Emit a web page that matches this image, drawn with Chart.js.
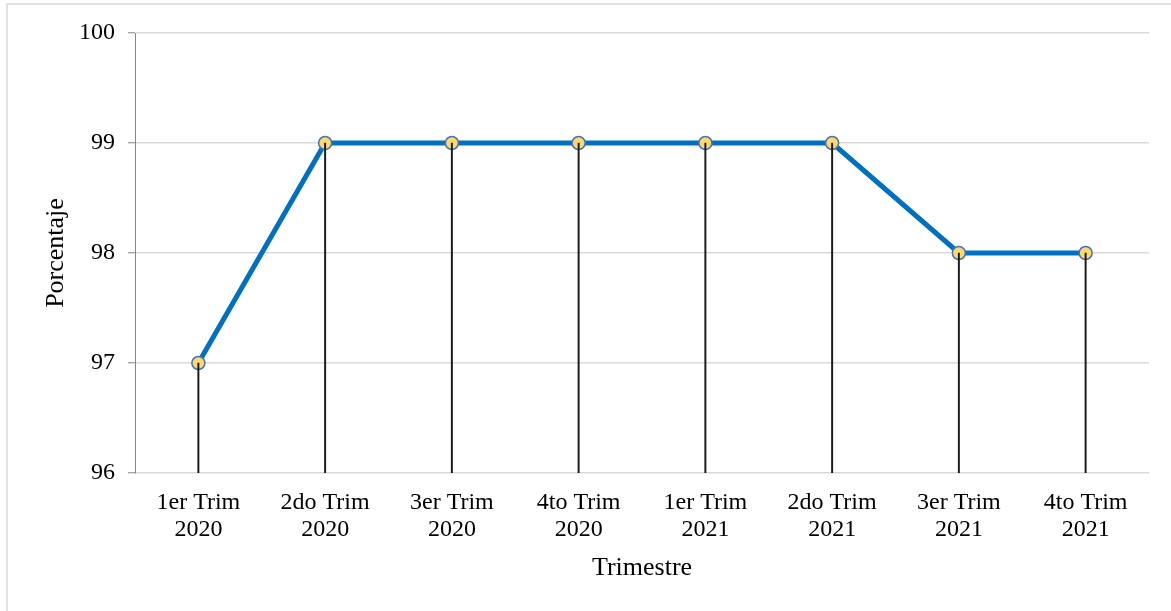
<!DOCTYPE html>
<html>
<head>
<meta charset="utf-8">
<script src="https://cdn.jsdelivr.net/npm/chart.js@4/dist/chart.umd.min.js"></script>
<style>
  html, body { margin: 0; padding: 0; background: #fff; }
  #wrap { width: 1171px; height: 611px; }
</style>
</head>
<body>
<div id="wrap"><canvas id="c" width="1171" height="611"></canvas></div>
<script>
// Quarterly percentage, 2020–2021
const categories = [
  ['1er Trim', '2020'], ['2do Trim', '2020'], ['3er Trim', '2020'], ['4to Trim', '2020'],
  ['1er Trim', '2021'], ['2do Trim', '2021'], ['3er Trim', '2021'], ['4to Trim', '2021']
];
const porcentaje = [97, 99, 99, 99, 99, 99, 98, 98];
const yTicks = [96, 97, 98, 99, 100];

const serif = '"Liberation Serif", "Times New Roman", serif';

// Light frame around the whole figure
const framePlugin = {
  id: 'frame',
  beforeDraw(chart) {
    const ctx = chart.ctx;
    ctx.save();
    ctx.fillStyle = '#ffffff';
    ctx.fillRect(0, 0, chart.width, chart.height);
    ctx.strokeStyle = '#d9d9d9';
    ctx.lineWidth = 1.5;
    ctx.strokeRect(7, 4, chart.width + 50, chart.height + 50);
    ctx.restore();
  }
};

new Chart(document.getElementById('c'), {
  data: {
    labels: categories,
    datasets: [
      {
        // thin drop lines from each point down to the axis
        type: 'bar',
        data: porcentaje,
        backgroundColor: '#1a1a1a',
        barThickness: 1.3,
        order: 0
      },
      {
        type: 'line',
        label: 'Porcentaje',
        data: porcentaje,
        borderColor: '#0070C0',
        borderWidth: 5,
        tension: 0,
        pointRadius: 6.5,
        pointBorderWidth: 1.5,
        pointBackgroundColor: '#FFD966',
        pointBorderColor: '#4472C4',
        order: 1
      }
    ]
  },
  options: {
    responsive: false,
    animation: false,
    layout: { padding: { left: 0, top: 33, right: 22, bottom: 0 } },
    plugins: { legend: { display: false }, tooltip: { enabled: false } },
    scales: {
      x: {
        offset: true,
        grid: { display: false },
        border: { display: false },
        ticks: {
          color: '#000',
          font: { family: serif, size: 24, lineHeight: 1.125 },
          padding: 8,
          maxRotation: 0
        },
        title: {
          display: true,
          text: 'Trimestre',
          color: '#000',
          font: { family: serif, size: 26, lineHeight: 1.2 },
          padding: { top: 0, bottom: 27 }
        },
        afterFit(scale) { scale.height = 138; }
      },
      y: {
        min: 96,
        max: 100,
        afterBuildTicks(scale) { scale.ticks = yTicks.map(v => ({ value: v })); },
        grid: { color: '#d9d9d9', lineWidth: 1.5, tickLength: 7, tickColor: '#868686', tickWidth: 1 },
        border: { display: true, color: '#868686', width: 1 },
        ticks: {
          color: '#000',
          font: { family: serif, size: 24 },
          padding: 13
        },
        title: {
          display: true,
          text: 'Porcentaje',
          color: '#000',
          font: { family: serif, size: 26, lineHeight: 1.2 },
          padding: { top: 41, bottom: 0 }
        },
        afterFit(scale) { scale.width = 135; }
      }
    }
  },
  plugins: [framePlugin]
});
</script>
</body>
</html>
